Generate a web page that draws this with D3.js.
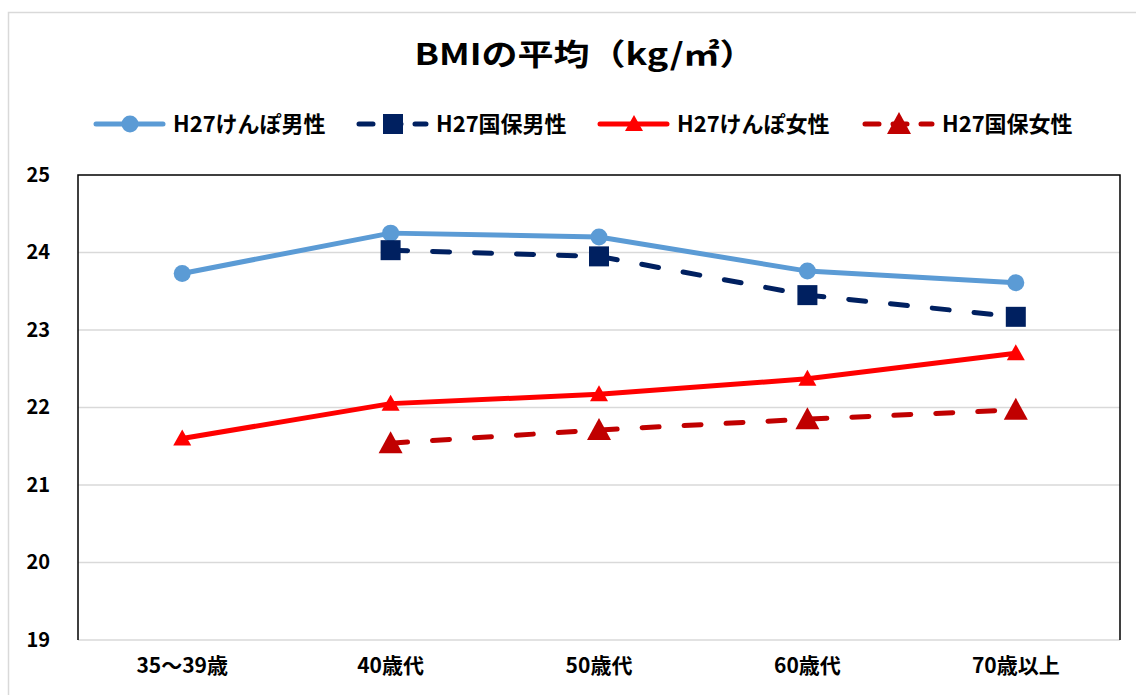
<!DOCTYPE html>
<html>
<head>
<meta charset="utf-8">
<script src="https://cdn.jsdelivr.net/npm/d3@7"></script>
<style>
  body { margin: 0; background: #fff; }
  text { font-family: "Noto Sans CJK JP", sans-serif; }
</style>
</head>
<body>
<svg id="chart" width="1136" height="695"></svg>
<script>
const categories = ["35～39歳", "40歳代", "50歳代", "60歳代", "70歳以上"];
const yTicks = [19, 20, 21, 22, 23, 24, 25];

const kenpoMale   = [23.73, 24.25, 24.20, 23.76, 23.61];
const kokuhoMale  = [null, 24.03, 23.95, 23.45, 23.17];
const kenpoFemale = [21.60, 22.05, 22.17, 22.37, 22.70];
const kokuhoFemale = [null, 21.54, 21.71, 21.85, 21.97];

const series = [
  { name: "H27けんぽ男性", values: kenpoMale, color: "#5b9bd5", dash: null, marker: "circle" },
  { name: "H27国保男性", values: kokuhoMale, color: "#002060", dash: "17 25", marker: "square" },
  { name: "H27けんぽ女性", values: kenpoFemale, color: "#ff0000", dash: null, marker: "tri" },
  { name: "H27国保女性", values: kokuhoFemale, color: "#c00000", dash: "17 25", marker: "bigtri" }
];

const svg = d3.select("#chart");
const plot = { left: 78, right: 1120, top: 175, bottom: 640 };

// outer frame
svg.append("rect")
  .attr("x", 8.5).attr("y", 12.5)
  .attr("width", 1140).attr("height", 700)
  .attr("fill", "none").attr("stroke", "#d9d9d9").attr("stroke-width", 1.5);

const x = d3.scaleBand().domain(categories).range([plot.left, plot.right]);
const y = d3.scaleLinear().domain([19, 25]).range([plot.bottom, plot.top]);
const cx = d => x(d) + x.bandwidth() / 2;

// gridlines
svg.append("g").selectAll("line")
  .data(yTicks.filter(t => t < 25))
  .join("line")
  .attr("x1", plot.left).attr("x2", plot.right)
  .attr("y1", d => y(d)).attr("y2", d => y(d))
  .attr("stroke", "#d9d9d9").attr("stroke-width", 1.5);

// plot frame (black on top, left, right)
svg.append("path")
  .attr("d", `M${plot.left},${plot.bottom}V${plot.top}H${plot.right}V${plot.bottom}`)
  .attr("fill", "none").attr("stroke", "#000").attr("stroke-width", 1.5);

// y axis labels
const yAxis = d3.axisLeft(y).tickValues(yTicks).tickFormat(d3.format("d")).tickSize(0).tickPadding(28);
const ya = svg.append("g").attr("transform", `translate(${plot.left},0)`).call(yAxis);
ya.select(".domain").remove();
ya.selectAll("text").attr("font-size", 20).attr("font-weight", "bold").attr("fill", "#000")
  .style("font-family", "'Noto Sans CJK JP', sans-serif");

// x axis labels
const xAxis = d3.axisBottom(x).tickSize(0).tickPadding(18);
const xa = svg.append("g").attr("transform", `translate(0,${plot.bottom})`).call(xAxis);
xa.select(".domain").remove();
xa.selectAll("text").attr("font-size", 21).attr("font-weight", "bold").attr("fill", "#000")
  .style("font-family", "'Noto Sans CJK JP', sans-serif");

function drawMarker(g, type, color, px, py) {
  if (type === "circle") {
    g.append("circle").attr("cx", px).attr("cy", py).attr("r", 8.5).attr("fill", color);
  } else if (type === "square") {
    g.append("rect").attr("x", px - 10).attr("y", py - 10).attr("width", 20).attr("height", 20).attr("fill", color);
  } else if (type === "tri") {
    g.append("path").attr("d", `M${px},${py - 9}L${px + 9},${py + 7}L${px - 9},${py + 7}Z`).attr("fill", color);
  } else {
    g.append("path").attr("d", `M${px},${py - 12}L${px + 12},${py + 10}L${px - 12},${py + 10}Z`).attr("fill", color);
  }
}

const line = d3.line()
  .defined(d => d.v != null)
  .x(d => cx(d.c)).y(d => y(d.v));

series.forEach(s => {
  const pts = categories.map((c, i) => ({ c: c, v: s.values[i] }));
  const g = svg.append("g");
  g.append("path").datum(pts)
    .attr("d", line)
    .attr("fill", "none").attr("stroke", s.color).attr("stroke-width", 5)
    .attr("stroke-linecap", "round").attr("stroke-linejoin", "round")
    .attr("stroke-dasharray", s.dash);
  pts.filter(p => p.v != null).forEach(p => drawMarker(g, s.marker, s.color, cx(p.c), y(p.v)));
});

// title, stretched horizontally like the original wide font
svg.append("text")
  .attr("transform", "translate(585,65) scale(1.2,1)")
  .attr("text-anchor", "middle")
  .attr("font-size", 30).attr("font-weight", "bold")
  .text("BMIの平均（kg/㎡）");

// legend
const legendX = [96, 359, 600, 865];
const legend = svg.append("g");
series.forEach((s, i) => {
  const lx = legendX[i];
  legend.append("line")
    .attr("x1", lx).attr("x2", lx + 67).attr("y1", 124).attr("y2", 124)
    .attr("stroke", s.color).attr("stroke-width", 5).attr("stroke-linecap", "round")
    .attr("stroke-dasharray", s.dash ? "14 14" : null);
  drawMarker(legend, s.marker, s.color, lx + 34, 124);
  legend.append("text")
    .attr("x", lx + 77).attr("y", 124).attr("dy", "0.35em")
    .attr("font-size", 22).attr("font-weight", "bold")
    .text(s.name);
});
</script>
</body>
</html>
